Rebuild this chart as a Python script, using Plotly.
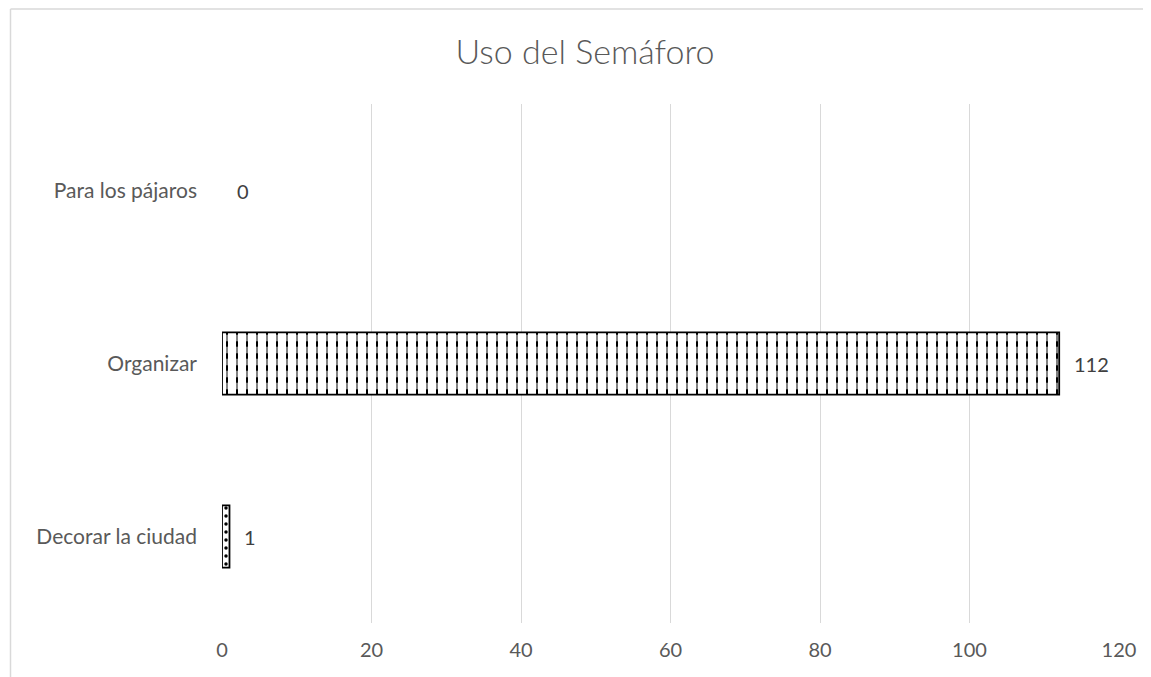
import plotly.graph_objects as go

categories = ["Decorar la ciudad", "Organizar", "Para los pájaros"]
values = [1, 112, 0]
patterns = [".", "|", ""]
x_ticks = [0, 20, 40, 60, 80, 100, 120]
title_text = "Uso del Semáforo"

FONT = "Lato, 'Open Sans', sans-serif"
GRAY = "#595959"

W, H = 1143, 669
L, R, T, B = 214, 32, 96, 54
PW, PH = W - L - R, H - T - B

outline_w = [1.8 if v > 0 else 0 for v in values]

fig = go.Figure()
# hatched fill
fig.add_trace(go.Bar(
    y=categories, x=values, orientation="h", width=0.36,
    marker=dict(
        color="white", line=dict(width=0),
        pattern=dict(shape=patterns, fgcolor="black", bgcolor="white",
                     size=[8, 10, 8], solidity=[0.15, 0.2, 0.2], fillmode="replace"),
    ),
    hoverinfo="skip",
))
# white horizontal breaks to turn the vertical lines into dashes, plus outline
fig.add_trace(go.Bar(
    y=categories, x=values, orientation="h", width=0.36,
    marker=dict(
        color="rgba(0,0,0,0)", line=dict(color="black", width=outline_w),
        pattern=dict(shape=["", "-", ""], fgcolor="white", bgcolor="rgba(0,0,0,0)",
                     size=12, solidity=0.55, fillmode="overlay"),
    ),
))

for c, v in zip(categories, values):
    fig.add_annotation(x=v, y=c, text=str(v), showarrow=False, xanchor="left",
                       xshift=13, font=dict(family=FONT, size=20, color="#404040"))

# chart-area border (left and top visible)
x0p = (2.5 - L) / PW
ytp = 1 + (T - 1) / PH
ybp = -B / PH
xrp = (W - L) / PW
fig.add_shape(type="line", xref="paper", yref="paper", x0=x0p, x1=x0p, y0=ybp, y1=ytp,
              line=dict(color="#d9d9d9", width=1.5))
fig.add_shape(type="line", xref="paper", yref="paper", x0=x0p, x1=xrp, y0=ytp, y1=ytp,
              line=dict(color="#d9d9d9", width=1.5))

fig.update_layout(
    width=W, height=H,
    margin=dict(l=L, r=R, t=T, b=B),
    paper_bgcolor="white", plot_bgcolor="white",
    barmode="overlay",
    title=dict(text=title_text, x=577 / W, xanchor="center", y=1 - 44 / H, yanchor="middle",
               font=dict(family=FONT, size=34, color=GRAY, weight=300)),
    showlegend=False,
    xaxis=dict(range=[0, 120], tickvals=x_ticks, showgrid=True, gridcolor="#d9d9d9", gridwidth=1.3,
               zeroline=False, showline=False, ticks="",
               tickfont=dict(family=FONT, size=20, color=GRAY), ticklabelstandoff=13),
    yaxis=dict(range=[-0.5, 2.5], showgrid=False, zeroline=False, showline=False, ticks="",
               tickfont=dict(family=FONT, size=21, color=GRAY), ticklabelstandoff=24),
)

fig.write_html("out.html")
